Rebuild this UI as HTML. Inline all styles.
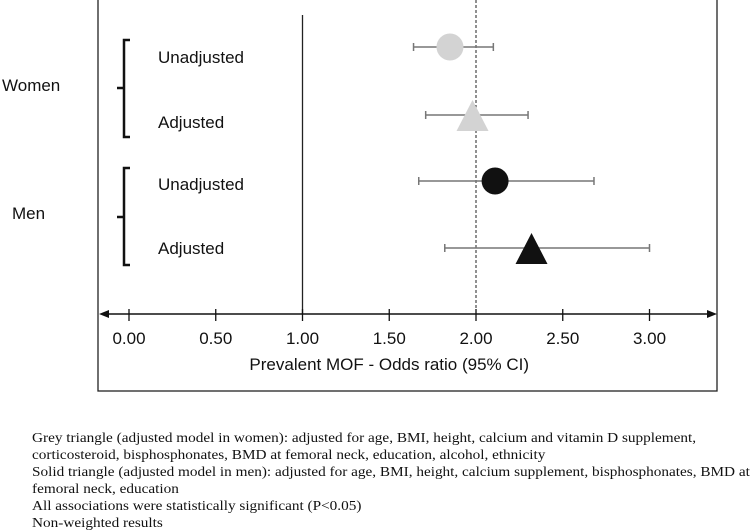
<!DOCTYPE html>
<html><head><meta charset="utf-8"><style>
body{margin:0;background:#fff;width:750px;height:530px;overflow:hidden}
svg{display:block}
.s{font-family:"Liberation Sans",sans-serif;fill:#111}
.f{font-family:"Liberation Serif",serif;font-size:14px;fill:#111}
</style></head><body>
<svg id="c" width="750" height="530">
<rect x="98" y="-2" width="619" height="393" fill="none" stroke="#222" stroke-width="1.3"/>
<g id="g"></g>
<text class="s" x="2" y="91" font-size="17">Women</text>
<text class="s" x="12" y="219" font-size="17">Men</text>
<path d="M130 40 H124 V137 H130 M124 88 H117" fill="none" stroke="#111" stroke-width="2.5"/>
<path d="M130 168 H124 V265 H130 M124 217 H117" fill="none" stroke="#111" stroke-width="2.5"/>
<g transform="translate(32,0) scale(1.09,1)">
<text class="f" x="0" y="442">Grey triangle (adjusted model in women): adjusted for age, BMI, height, calcium and vitamin D supplement,</text>
<text class="f" x="0" y="459">corticosteroid, bisphosphonates, BMD at femoral neck, education, alcohol, ethnicity</text>
<text class="f" x="0" y="476">Solid triangle (adjusted model in men): adjusted for age, BMI, height, calcium supplement, bisphosphonates, BMD at</text>
<text class="f" x="0" y="493">femoral neck, education</text>
<text class="f" x="0" y="510">All associations were statistically significant (P&lt;0.05)</text>
<text class="f" x="0" y="527">Non-weighted results</text>
</g>
</svg>
<script>
const rowLabels=["Unadjusted","Adjusted","Unadjusted","Adjusted"];
const estimates=[1.85,1.98,2.11,2.32];
const ciLow=[1.64,1.71,1.67,1.82];
const ciHigh=[2.10,2.30,2.68,3.00];
const shapes=["circle","triangle","circle","triangle"];
const colors=["#d3d3d3","#d3d3d3","#111","#111"];
const ticks=[0,0.5,1,1.5,2,2.5,3];
const tickLabels=["0.00","0.50","1.00","1.50","2.00","2.50","3.00"];
const rowY=[47,115,181,248];
const labelY=[57,122,184,248];
const NS="http://www.w3.org/2000/svg";
const g=document.getElementById('g');
const x=v=>129+v*173.5;
function el(t,a){const e=document.createElementNS(NS,t);for(const k in a)e.setAttribute(k,a[k]);g.appendChild(e);return e;}
let e;
e=el('line',{x1:x(2),x2:x(2),y1:0,y2:314,stroke:'#222','stroke-dasharray':'3,2','stroke-width':1});


e=el('line',{x1:x(1),x2:x(1),y1:15,y2:314,stroke:'#222','stroke-width':1.3});


e=el('line',{x1:102,x2:714,y1:314,y2:314,stroke:'#111','stroke-width':1.5});


e=el('path',{d:'M99 314 L109 310 L109 318 Z M717 314 L707 310 L707 318 Z',fill:'#111'});


ticks.forEach((t,i)=>{
 let m=el('line',{x1:x(t),x2:x(t),y1:309,y2:321,stroke:'#111','stroke-width':1.3});
 
 
 let l=el('text',{x:x(t),y:344,'text-anchor':'middle','font-size':17,class:'s'});
 l.textContent=tickLabels[i];
 
 
});
e=el('text',{x:x(1.5),y:370,'text-anchor':'middle','font-size':17,class:'s'});
e.textContent="Prevalent MOF - Odds ratio (95% CI)";


rowLabels.forEach((r,i)=>{
 let l=el('text',{x:158,y:labelY[i]+6,'font-size':17,class:'s'});
 l.textContent=r;
 
 
 const y=rowY[i],a=x(ciLow[i]),b=x(ciHigh[i]);
 let c=el('path',{d:`M${a} ${y} H${b} M${a} ${y-4} V${y+4} M${b} ${y-4} V${y+4}`,stroke:'#777','stroke-width':1.5,fill:'none'});
 
 
 const cx=x(estimates[i]);let m;
 if(shapes[i]=="circle") m=el('ellipse',{cx:cx,cy:y,rx:13.5,ry:13.5,fill:colors[i]});
 else m=el('path',{d:`M${cx} ${y-15} L${cx+16} ${y+16} L${cx-16} ${y+16} Z`,fill:colors[i]});
 
 
});
</script>
</body></html>
